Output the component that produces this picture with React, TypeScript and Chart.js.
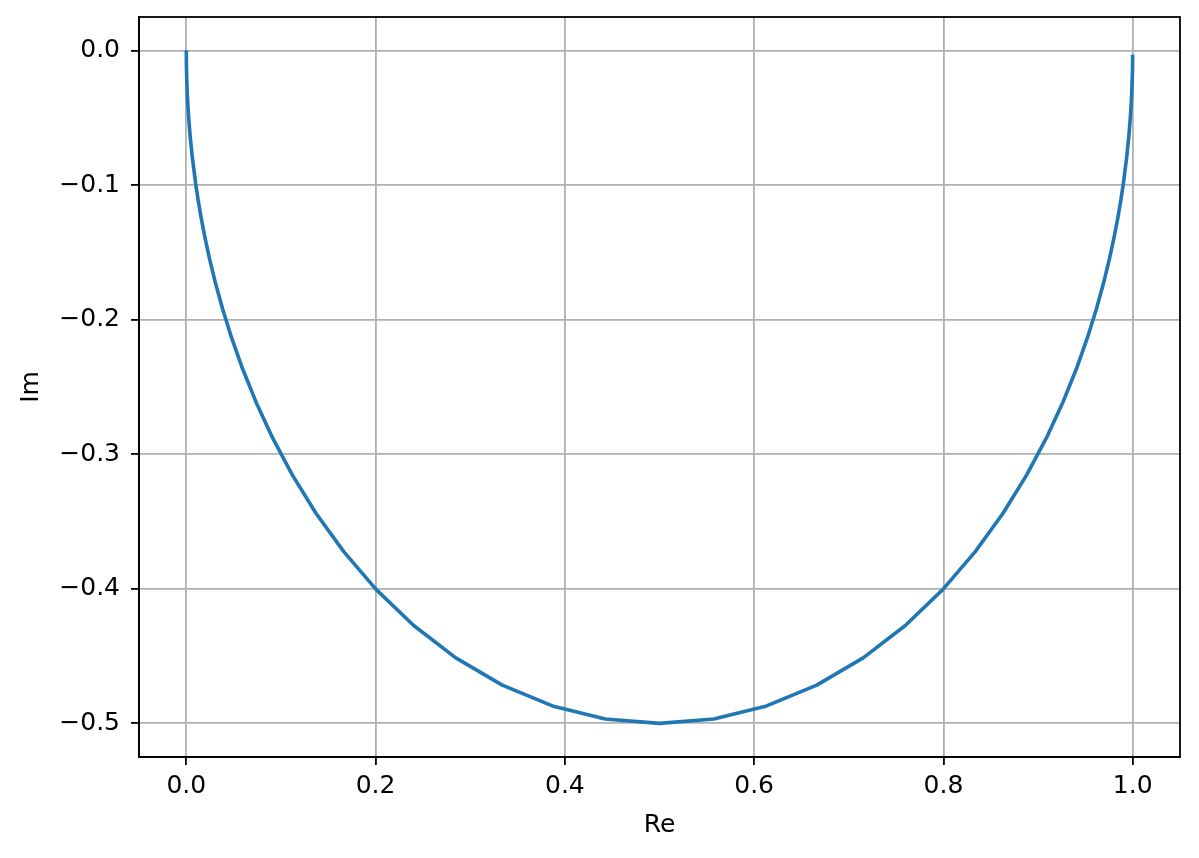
import React, { useEffect, useRef } from "react";
import { Chart, registerables } from "chart.js";

Chart.register(...registerables);

// Nyquist curve points (Re, Im)
const reValues = [
  0.99998, 0.9999, 0.99975, 0.9995, 0.999, 0.99842, 0.99749, 0.99603, 0.99373,
  0.9901, 0.98757, 0.9844, 0.98044, 0.9755, 0.96935, 0.96171, 0.95227, 0.94065,
  0.92641, 0.90909, 0.88818, 0.86319, 0.83366, 0.79924, 0.75975, 0.71525,
  0.66614, 0.61314, 0.55731, 0.5, 0.44269, 0.38686, 0.33386, 0.28475, 0.24025,
  0.20076, 0.16634, 0.13681, 0.11182, 0.09091, 0.07359, 0.05935, 0.04773,
  0.03829, 0.03065, 0.0245, 0.01956, 0.0156, 0.01243, 0.0099, 0.00627, 0.00397,
  0.00251, 0.00158, 0.000999, 0.0005, 0.00025, 0.0001, 0.000025, 0.000001,
];
const imValues = [
  -0.00447, -0.01, -0.01585, -0.02238, -0.03159, -0.03975, -0.04999, -0.06285,
  -0.07893, -0.09901, -0.11081, -0.12393, -0.13849, -0.15461, -0.17238,
  -0.19189, -0.21319, -0.23628, -0.2611, -0.28748, -0.31514, -0.34364,
  -0.37238, -0.40057, -0.42724, -0.45129, -0.47159, -0.48703, -0.49671, -0.5,
  -0.49671, -0.48703, -0.47159, -0.45129, -0.42724, -0.40057, -0.37238,
  -0.34364, -0.31514, -0.28748, -0.2611, -0.23628, -0.21319, -0.19189,
  -0.17238, -0.15461, -0.13849, -0.12393, -0.11081, -0.09901, -0.07893,
  -0.06285, -0.04999, -0.03975, -0.03159, -0.02238, -0.01585, -0.01, -0.005,
  -0.001,
];
const xTicks = [0.0, 0.2, 0.4, 0.6, 0.8, 1.0];
const yTicks = [0.0, -0.1, -0.2, -0.3, -0.4, -0.5];
const xTitle = "Re";
const yTitle = "Im";

const FONT = "'DejaVu Sans', sans-serif";

const fmt = (v: number) => {
  const s = Math.abs(v) < 1e-9 ? "0.0" : v.toFixed(1);
  return s.replace("-", "\u2212");
};

const framePlugin = {
  id: "frame",
  afterDraw(chart: any) {
    const { ctx, chartArea } = chart;
    ctx.save();
    ctx.strokeStyle = "#000";
    ctx.lineWidth = 1.8;
    ctx.strokeRect(
      chartArea.left,
      chartArea.top,
      chartArea.right - chartArea.left,
      chartArea.bottom - chartArea.top
    );
    ctx.restore();
  },
};

export default function App() {
  const ref = useRef<HTMLCanvasElement>(null);
  useEffect(() => {
    if (!ref.current) return;
    const points = reValues.map((x, i) => ({ x, y: imValues[i] }));
    const chart = new Chart(ref.current, {
      type: "scatter",
      data: {
        datasets: [
          {
            data: points,
            showLine: true,
            borderColor: "#1f77b4",
            borderWidth: 3.6,
            borderJoinStyle: "round",
            borderCapStyle: "square",
            borderDash: [100000, 0],
            pointRadius: 0,
            fill: false,
            tension: 0,
          },
        ],
      },
      plugins: [framePlugin],
      options: {
        animation: false,
        responsive: false,
        devicePixelRatio: 1,
        layout: { padding: { left: 0, right: 19, top: 17, bottom: 0 } },
        plugins: {
          legend: { display: false },
          tooltip: { enabled: false },
        },
        scales: {
          x: {
            type: "linear",
            min: -0.05,
            max: 1.05,
            afterBuildTicks: (axis: any) => {
              axis.ticks = xTicks.map((v) => ({ value: v }));
            },
            afterFit: (axis: any) => {
              axis.height = 101;
              axis.paddingLeft = 0;
              axis.paddingRight = 0;
            },
            grid: {
              color: "#b0b0b0",
              lineWidth: 1.8,
              tickColor: "#000",
              tickLength: 8,
              tickWidth: 1.8,
            },
            border: { display: true, color: "#000", width: 1.8 },
            ticks: {
              color: "#000",
              font: { family: FONT, size: 25 },
              padding: 6,
              maxRotation: 0,
              autoSkip: false,
              callback: (v: any) => fmt(Number(v)),
            },
            title: {
              display: true,
              text: xTitle,
              color: "#000",
              font: { family: FONT, size: 25 },
              padding: { top: 0, bottom: 18 },
            },
          },
          y: {
            type: "linear",
            min: -0.525,
            max: 0.025,
            afterBuildTicks: (axis: any) => {
              axis.ticks = yTicks.map((v) => ({ value: v }));
            },
            afterFit: (axis: any) => {
              axis.width = 139;
              axis.paddingTop = 0;
              axis.paddingBottom = 0;
            },
            grid: {
              color: "#b0b0b0",
              lineWidth: 1.8,
              tickColor: "#000",
              tickLength: 8,
              tickWidth: 1.8,
            },
            border: { display: true, color: "#000", width: 1.8 },
            ticks: {
              color: "#000",
              font: { family: FONT, size: 25 },
              padding: 11,
              autoSkip: false,
              callback: (v: any) => fmt(Number(v)),
            },
            title: {
              display: true,
              text: yTitle,
              color: "#000",
              font: { family: FONT, size: 25 },
              padding: { top: 16, bottom: 0 },
            },
          },
        },
      },
    });
    return () => chart.destroy();
  }, []);

  return (
    <div style={{ position: "absolute", left: 0, top: 0, width: 1199, height: 858 }}>
      <canvas ref={ref} width={1199} height={858} />
    </div>
  );
}
